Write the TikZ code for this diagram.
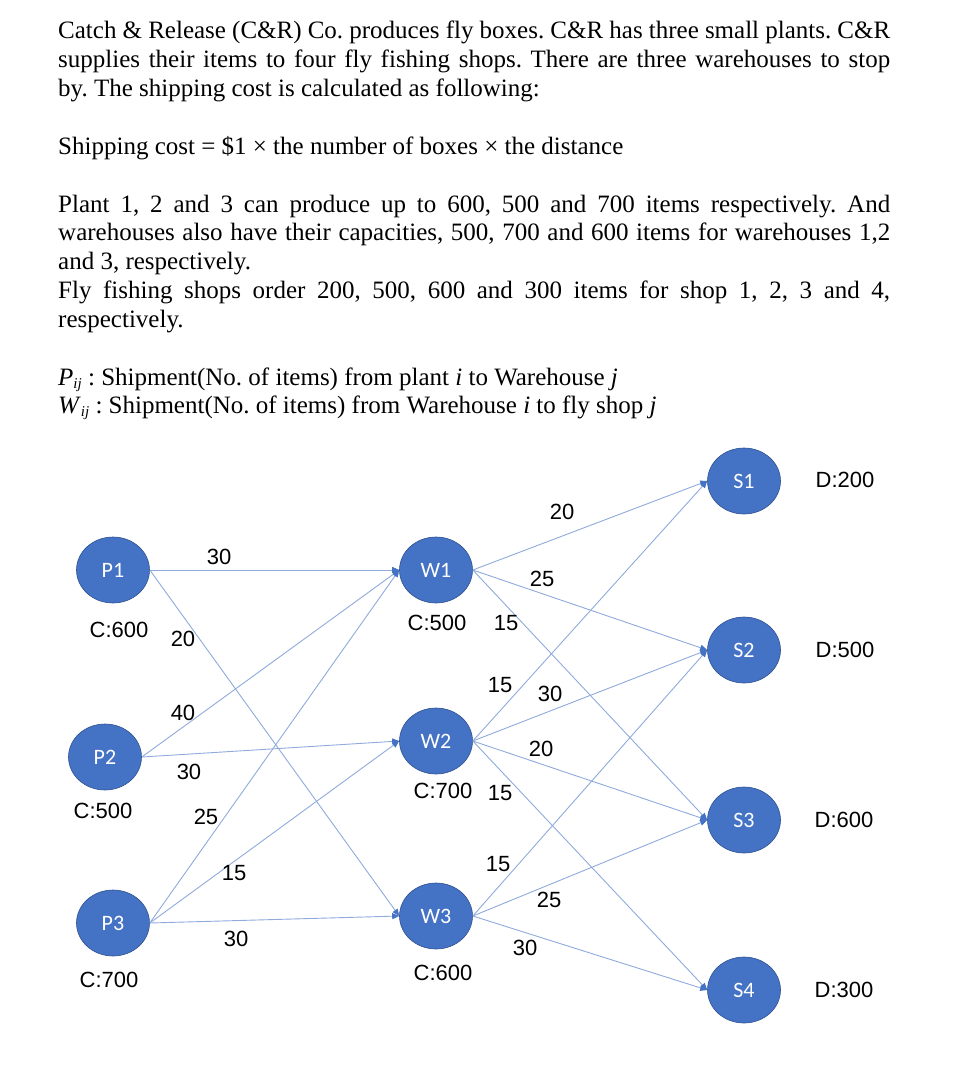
\documentclass[tikz,border=0pt]{standalone}
\usepackage{fontspec}
\setmainfont{Liberation Serif}
\newfontfamily\arialfont{Liberation Sans}
\newfontfamily\calibrifont{Carlito}
\usetikzlibrary{arrows.meta,shapes.geometric}
\tolerance=9999
\frenchspacing

\definecolor{nodeblue}{RGB}{68,114,196}
\definecolor{nodeedge}{RGB}{47,82,143}
\definecolor{lineblue}{RGB}{143,170,220}

\tikzset{
  site/.style={ellipse, fill=nodeblue, draw=nodeedge, line width=0.6pt,
    minimum width=73pt, minimum height=66pt, inner sep=0pt,
    text=white, font=\calibrifont\fontsize{22}{24}\selectfont},
  flow/.style={lineblue, line width=0.9pt, -{Triangle[length=7pt,width=6pt,color=nodeblue]}},
  amount/.style={font=\arialfont\fontsize{22}{24}\selectfont, inner sep=0pt},
  para/.style={anchor=base west, inner sep=0pt, text width=832pt, align=justify,
    font=\fontsize{25}{28.8}\selectfont}
}
\newcommand{\subij}{{\fontsize{15}{15}\selectfont\raisebox{-3pt}{\textit{ij}}}}

\begin{document}
\begin{tikzpicture}[x=1pt, y=-1pt]
        \useasboundingbox (0,0) rectangle (964,1078);
        % Enunciado
        \node[para] (intro) at (58,39) {Catch \& Release (C\&R) Co. produces fly boxes. C\&R has three small plants. C\&R\linebreak supplies their items to four fly fishing shops. There are three warehouses to stop\linebreak by. The shipping cost is calculated as following:};
        \node[para] (rule) at (58,155) {Shipping cost = \$1 × the number of boxes × the distance};
        \node[para] (limits) at (58,212) {Plant 1, 2 and 3 can produce up to 600, 500 and 700 items respectively. And\linebreak warehouses also have their capacities, 500, 700 and 600 items for warehouses 1,2\linebreak and 3, respectively.\par Fly fishing shops order 200, 500, 600 and 300 items for shop 1, 2, 3 and 4,\linebreak respectively.};
        \node[para] (vars) at (58,385) {\textit{P}\subij\ : Shipment(No. of items) from plant \textit{i} to Warehouse \textit{j}\par
          \textit{W}\subij\ : Shipment(No. of items) from Warehouse \textit{i} to fly shop \textit{j}};

        % Plantas
        \node[site] (P1) at (113,570) {P1};
        \node[site] (P2) at (105,757) {P2};
        \node[site] (P3) at (113,923) {P3};
        \node[amount] (cP1) at (119,630) {C:600};
        \node[amount] (cP2) at (103,811) {C:500};
        \node[amount] (cP3) at (109,980) {C:700};

        % Almacenes
        \node[site] (W1) at (436,570) {W1};
        \node[site] (W2) at (436,741) {W2};
        \node[site] (W3) at (436,916) {W3};
        \node[amount] (cW1) at (437,623) {C:500};
        \node[amount] (cW2) at (443,791) {C:700};
        \node[amount] (cW3) at (443,973) {C:600};

        % Tiendas
        \node[site] (S1) at (744,481) {S1};
        \node[site] (S2) at (744,650) {S2};
        \node[site] (S3) at (744,820) {S3};
        \node[site] (S4) at (744,990) {S4};
        \node[amount] (dS1) at (845,480) {D:200};
        \node[amount] (dS2) at (845,650) {D:500};
        \node[amount] (dS3) at (844,820) {D:600};
        \node[amount] (dS4) at (844,990) {D:300};

        % Envios planta -> almacen
        \draw[flow] (P1.east) -- (W1.west);
        \draw[flow] (P1.east) -- (W3.west);
        \draw[flow] (P2.east) -- (W1.west);
        \draw[flow] (P2.east) -- (W2.west);
        \draw[flow] (P3.east) -- (W1.west);
        \draw[flow] (P3.east) -- (W2.west);
        \draw[flow] (P3.east) -- (W3.west);
        \node[amount] (dP1W1) at (219,557) {30};
        \node[amount] (dP1W3) at (183,639) {20};
        \node[amount] (dP2W1) at (183,713) {40};
        \node[amount] (dP2W2) at (189,772) {30};
        \node[amount] (dP3W1) at (206,817) {25};
        \node[amount] (dP3W2) at (234,873) {15};
        \node[amount] (dP3W3) at (236,939) {30};

        % Envios almacen -> tienda
        \draw[flow] (W1.east) -- (S1.west);
        \draw[flow] (W1.east) -- (S2.west);
        \draw[flow] (W1.east) -- (S3.west);
        \draw[flow] (W2.east) -- (S1.west);
        \draw[flow] (W2.east) -- (S2.west);
        \draw[flow] (W2.east) -- (S3.west);
        \draw[flow] (W2.east) -- (S4.west);
        \draw[flow] (W3.east) -- (S2.west);
        \draw[flow] (W3.east) -- (S3.west);
        \draw[flow] (W3.east) -- (S4.west);
        \node[amount] (dW1S1) at (562,512) {20};
        \node[amount] (dW1S2) at (542,579) {25};
        \node[amount] (dW1S3) at (506,623) {15};
        \node[amount] (dW2S1) at (500,685) {15};
        \node[amount] (dW2S2) at (550,694) {30};
        \node[amount] (dW2S3) at (541,749) {20};
        \node[amount] (dW2S4) at (500,793) {15};
        \node[amount] (dW3S2) at (498,864) {15};
        \node[amount] (dW3S3) at (549,900) {25};
        \node[amount] (dW3S4) at (525,948) {30};
\end{tikzpicture}
\end{document}
